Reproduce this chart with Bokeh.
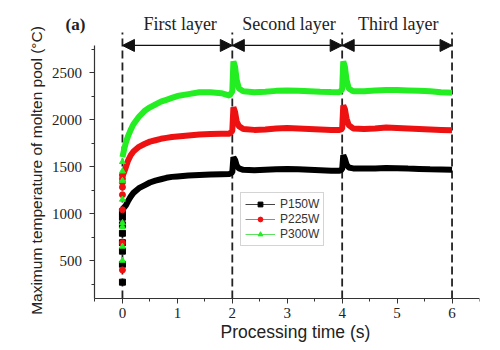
import math
from bokeh.plotting import figure
from bokeh.models import (Legend, LegendItem, Arrow, NormalHead, Label,
                          SingleIntervalTicker)
from bokeh.embed import file_html
from bokeh.resources import INLINE

# ---------------- data ----------------
time_s = [0.0, 0.03, 0.06, 0.1, 0.15, 0.2, 0.3, 0.4, 0.5, 0.6, 0.7, 0.8, 0.9,
          1.0, 1.2, 1.4, 1.6, 1.8, 1.95, 2.0, 2.02, 2.05, 2.08, 2.12, 2.2,
          2.4, 2.6, 2.8, 3.0, 3.2, 3.4, 3.6, 3.8, 3.95, 4.0, 4.02, 4.05,
          4.08, 4.12, 4.2, 4.4, 4.6, 4.8, 5.0, 5.2, 5.4, 5.6, 5.8, 6.0]

p150w = [1050, 1065, 1085, 1130, 1180, 1220, 1270, 1300, 1330, 1350, 1365,
         1380, 1390, 1395, 1405, 1410, 1415, 1418, 1420, 1440, 1600, 1570,
         1510, 1480, 1465, 1460, 1465, 1470, 1475, 1470, 1465, 1460, 1455,
         1455, 1470, 1620, 1580, 1520, 1490, 1480, 1478, 1480, 1485, 1482,
         1478, 1475, 1470, 1468, 1465]

p225w = [1400, 1440, 1490, 1560, 1620, 1660, 1710, 1740, 1765, 1780, 1795,
         1805, 1815, 1820, 1830, 1840, 1845, 1848, 1850, 1880, 2130, 2080,
         1980, 1930, 1900, 1890, 1895, 1905, 1910, 1905, 1900, 1895, 1890,
         1888, 1900, 2150, 2110, 2010, 1940, 1905, 1900, 1905, 1915, 1910,
         1905, 1900, 1895, 1890, 1885]

p300w = [1600, 1680, 1750, 1820, 1890, 1950, 2030, 2090, 2130, 2160, 2190,
         2210, 2230, 2250, 2270, 2290, 2290, 2280, 2255, 2300, 2620, 2560,
         2420, 2330, 2300, 2290, 2295, 2305, 2310, 2305, 2300, 2295, 2292,
         2290, 2320, 2620, 2560, 2420, 2330, 2300, 2300, 2310, 2315, 2315,
         2310, 2305, 2300, 2290, 2285]

# early (t = 0) readings plotted as separate markers
start_t = [0, 0, 0, 0, 0, 0, 0, 0]
start_p150w = [270, 460, 600, 690, 790, 880, 960, 1020]
start_p225w = [400, 690, 1040, 1200, 1280, 1330, 1370, 1410]
start_p300w = [500, 650, 860, 900, 1150, 1350, 1450, 1550]

layer_bounds = [0, 2, 4, 6]
layer_names = ["First layer", "Second layer", "Third layer"]

series_names = ["P150W", "P225W", "P300W"]
# ----------------------------------------------------------------

SERIF = "Liberation Serif"
SANS = "Liberation Sans"
BLACK, RED, GREEN = "#000000", "#ee1111", "#22ee22"
Y_AXIS_MIN, Y_AXIS_MAX = 96, 2790
X_AXIS_MIN, X_AXIS_MAX = -0.5, 6.5

# the frame covers the whole canvas (except a right margin) so that the
# axis titles and the panel tag can be placed freely; axes sit at fixed
# data locations like in the original figure
p = figure(width=500, height=350, x_range=(-2.22, X_AXIS_MAX),
           y_range=(-457, 3160),
           output_backend="svg", toolbar_location=None,
           min_border_left=0, min_border_right=21, min_border_top=10,
           min_border_bottom=0)
p.outline_line_color = None
p.grid.grid_line_color = None
p.background_fill_color = "white"
p.border_fill_color = "white"

# axes
p.xaxis.ticker = SingleIntervalTicker(interval=1, num_minor_ticks=2)
p.yaxis.ticker = SingleIntervalTicker(interval=500, num_minor_ticks=2)
p.xaxis.bounds = (X_AXIS_MIN, X_AXIS_MAX)
p.yaxis.bounds = (Y_AXIS_MIN, Y_AXIS_MAX)
p.xaxis.fixed_location = Y_AXIS_MIN
p.yaxis.fixed_location = X_AXIS_MIN
for ax in (p.xaxis[0], p.yaxis[0]):
    ax.axis_line_color = "#333333"
    ax.axis_line_width = 1.2
    ax.major_tick_line_color = "#333333"
    ax.minor_tick_line_color = "#333333"
    ax.major_tick_out = 5
    ax.major_tick_in = 0
    ax.minor_tick_out = 3
    ax.minor_tick_in = 0
    ax.major_label_text_font = SERIF
    ax.major_label_text_font_size = "15px"
    ax.major_label_text_color = "#222222"
p.xaxis.major_label_standoff = 4
p.yaxis.major_label_standoff = 8

# axis titles drawn as text
p.add_layout(Label(x=-1.566, y=1458, angle=math.pi / 2,
                   text="Maximum temperature of molten pool (°C)",
                   text_font=SANS, text_font_size="15.5px",
                   text_color="#222222", text_align="center",
                   text_baseline="middle"))
p.add_layout(Label(x=3.15, y=-255, text="Processing time (s)",
                   text_font=SANS, text_font_size="17.5px",
                   text_color="#222222", text_align="center",
                   text_baseline="middle"))

# layer boundaries (dashed)
p.segment(x0=layer_bounds, y0=[Y_AXIS_MIN] * 4, x1=layer_bounds,
          y1=[2926] * 4, line_color="#222222", line_width=1.8,
          line_dash="8 4")

# double arrows and layer names
label_x = [1.05, 3.03, 5.02]
for i in range(3):
    p.add_layout(Arrow(x_start=layer_bounds[i], x_end=layer_bounds[i + 1],
                       y_start=2788, y_end=2788, line_width=1.3,
                       line_color="#111111",
                       start=NormalHead(size=12, fill_color="#111111",
                                        line_color="#111111"),
                       end=NormalHead(size=12, fill_color="#111111",
                                      line_color="#111111")))
    p.add_layout(Label(x=label_x[i], y=2905, text=layer_names[i],
                       text_font=SERIF, text_font_size="18px",
                       text_color="#222222", text_align="center",
                       text_baseline="bottom"))
p.add_layout(Label(x=-0.674, y=2905, text="(a)", text_font=SERIF,
                   text_font_size="17px", text_font_style="bold",
                   text_color="#222222", text_align="right",
                   text_baseline="bottom"))

# curves
vals = [p150w, p225w, p300w]
starts = [start_p150w, start_p225w, start_p300w]
colors = [BLACK, RED, GREEN]
markers = ["square", "circle", "triangle"]
legend_line_colors = ["#444444", "#f06070", "#60e060"]
items = []
for name, v, s, c, m, lc in zip(series_names, vals, starts, colors, markers,
                                legend_line_colors):
    p.line(time_s, v, line_color=c, line_width=6)
    sc = p.scatter(start_t, s, marker=m, size=6, fill_color=c, line_color=c)
    ghost = p.line(time_s, v, line_color=lc, line_width=1, visible=False)
    items.append(LegendItem(label=name, renderers=[ghost, sc]))

legend = Legend(items=items, location=(240, 104), border_line_color="#aaaaaa",
                border_line_width=1, background_fill_color="white",
                label_text_font=SANS, label_text_font_size="12px",
                label_text_color="#333333", glyph_width=30, glyph_height=12,
                label_height=12, spacing=1, padding=4, margin=0,
                label_standoff=5)
p.add_layout(legend)

open("out.html", "w").write(file_html(p, INLINE))
